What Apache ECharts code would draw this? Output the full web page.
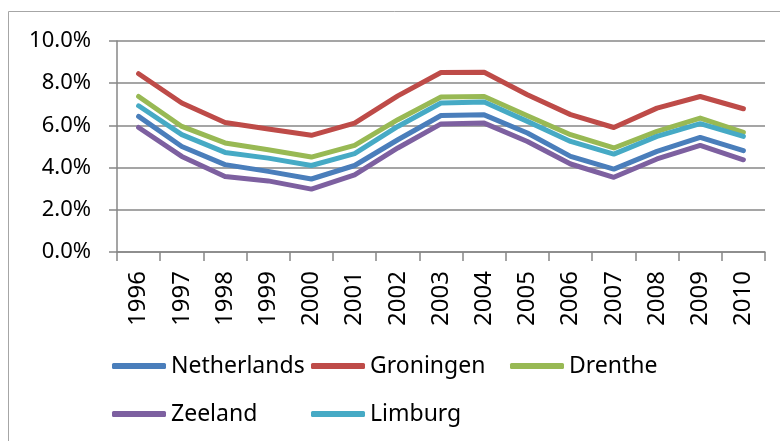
<!DOCTYPE html>
<html>
<head>
<meta charset="utf-8">
<script src="https://cdn.jsdelivr.net/npm/echarts@6/dist/echarts.min.js"></script>
<style>
  html, body { margin: 0; padding: 0; background: #fff; }
  #chart { width: 780px; height: 441px; }
</style>
</head>
<body>
<div id="chart"></div>
<script>
// years on the x axis
var years = ['1996', '1997', '1998', '1999', '2000', '2001', '2002', '2003',
  '2004', '2005', '2006', '2007', '2008', '2009', '2010']

// unemployment share per region (fractions)
var netherlands = [0.0643, 0.0500, 0.0414, 0.0382, 0.0346, 0.0410, 0.0532, 0.0647, 0.0650, 0.0564, 0.0453, 0.0393, 0.0477, 0.0543, 0.0480]
var groningen = [0.0845, 0.0706, 0.0614, 0.0583, 0.0553, 0.0611, 0.0740, 0.0851, 0.0852, 0.0745, 0.0651, 0.0590, 0.0682, 0.0737, 0.0679]
var drenthe = [0.0737, 0.0595, 0.0517, 0.0485, 0.0450, 0.0505, 0.0627, 0.0735, 0.0737, 0.0646, 0.0556, 0.0493, 0.0572, 0.0635, 0.0567]
var zeeland = [0.0590, 0.0453, 0.0358, 0.0337, 0.0298, 0.0365, 0.0493, 0.0607, 0.0611, 0.0524, 0.0417, 0.0354, 0.0441, 0.0505, 0.0437]
var limburg = [0.0693, 0.0556, 0.0472, 0.0445, 0.0410, 0.0466, 0.0595, 0.0706, 0.0711, 0.0619, 0.0524, 0.0464, 0.0548, 0.0608, 0.0548]

var yTicks = { min: 0, max: 0.1, interval: 0.02 }

var font = 'Noto Sans'
var mychart = echarts.init(document.getElementById('chart'))

function line(name, data, color) {
  return {
    name: name,
    type: 'line',
    data: data,
    symbol: 'none',
    lineStyle: { color: color, width: 5, cap: 'round', join: 'round' },
    itemStyle: { color: color },
    emphasis: { disabled: true }
  }
}

// legend columns, Excel style grid
function legendCol(left, names) {
  return {
    orient: 'vertical',
    left: left,
    top: 354,
    data: names,
    icon: 'roundRect',
    itemWidth: 54,
    itemHeight: 6,
    itemGap: 24,
    textStyle: { fontFamily: font, fontSize: 23, color: '#000', lineHeight: 24, padding: [0, 0, 0, 0] },
    padding: 0
  }
}

mychart.setOption({
  animation: false,
  graphic: [
    {
      type: 'rect',
      shape: { x: 8.5, y: 11.5, width: 820, height: 500 },
      style: { fill: 'none', stroke: '#a6a6a6', lineWidth: 1 },
      silent: true
    }
  ],
  grid: { left: 117, right: 15, top: 41, bottom: 189 },
  legend: [
    legendCol(112, ['Netherlands', 'Zeeland']),
    legendCol(311, ['Groningen', 'Limburg']),
    legendCol(510, ['Drenthe'])
  ],
  xAxis: {
    type: 'category',
    data: years,
    boundaryGap: true,
    axisLine: { lineStyle: { color: '#878787', width: 1.5 } },
    axisTick: { show: true, length: 9, lineStyle: { color: '#878787', width: 1.5 } },
    axisLabel: {
      rotate: 90,
      margin: 19,
      interval: 0,
      fontFamily: font,
      fontSize: 24,
      color: '#000'
    },
    splitLine: { show: false }
  },
  yAxis: {
    type: 'value',
    min: yTicks.min,
    max: yTicks.max,
    interval: yTicks.interval,
    axisLine: { show: true, lineStyle: { color: '#878787', width: 1.5 } },
    axisTick: { show: true, length: 8, lineStyle: { color: '#878787', width: 1.5 } },
    axisLabel: {
      margin: 26,
      fontFamily: font,
      fontSize: 22,
      color: '#000',
      formatter: function (v) { return (v * 100).toFixed(1) + '%' }
    },
    splitLine: { lineStyle: { color: '#878787', width: 1.5 } }
  },
  series: [
    line('Netherlands', netherlands, '#4a7ebb'),
    line('Groningen', groningen, '#be4b48'),
    line('Drenthe', drenthe, '#98b954'),
    line('Zeeland', zeeland, '#7d60a0'),
    line('Limburg', limburg, '#46aac5')
  ]
})
</script>
</body>
</html>
